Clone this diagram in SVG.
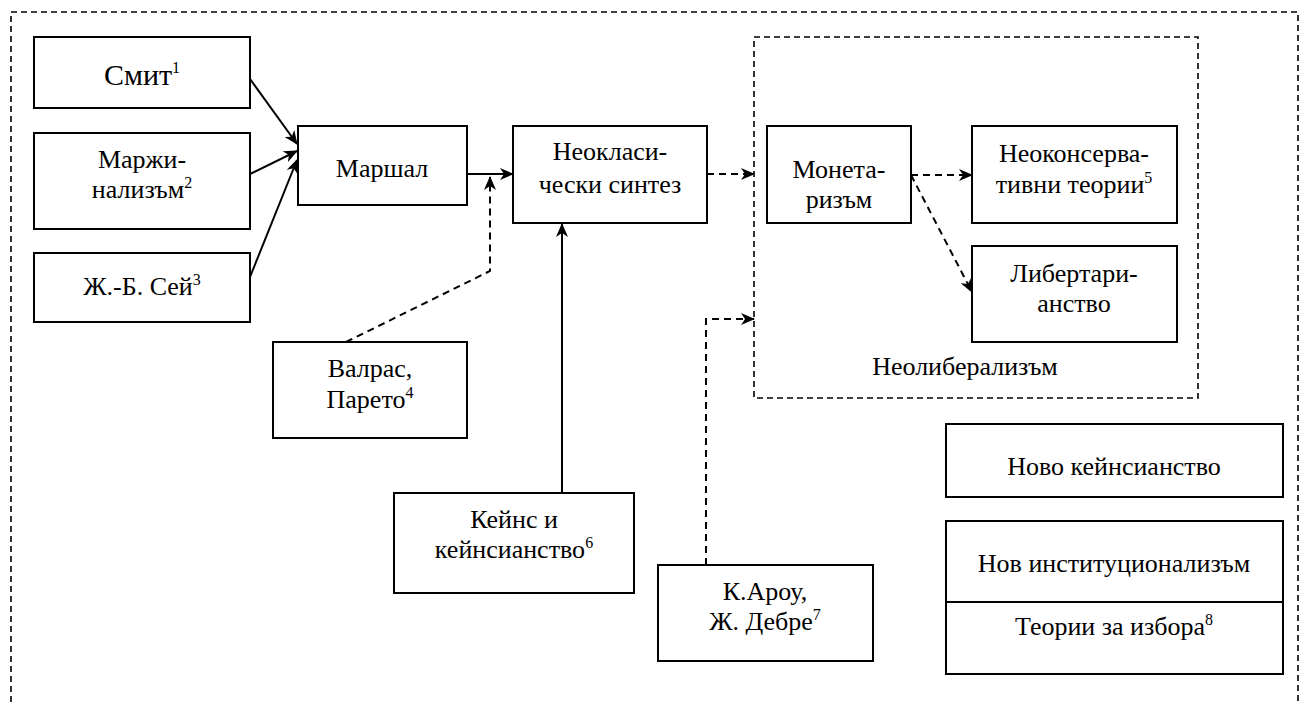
<svg xmlns="http://www.w3.org/2000/svg" width="1312" height="704" viewBox="0 0 1312 704">
<style>
  .box { fill: #fff; stroke: #000; stroke-width: 2; }
  .t { font-family: 'Liberation Serif', 'DejaVu Serif', serif; font-size: 26px; fill: #000; text-anchor: middle; }
  .big { font-size: 30px; }
  .sup { font-size: 16px; }
  .frame { fill: none; stroke: #000; stroke-width: 1.6; stroke-dasharray: 6 4; }
  .solid { fill: none; stroke: #000; stroke-width: 2; }
  .dash { fill: none; stroke: #000; stroke-width: 2; stroke-dasharray: 7 5; }
</style>
<defs>
  <marker id="arr" markerUnits="userSpaceOnUse" markerWidth="14" markerHeight="12" refX="13" refY="6" orient="auto">
    <path d="M0,0 L14,6 L0,12 L4,6 Z" fill="#000"/>
  </marker>
</defs>
<rect width="1312" height="704" fill="#fff"/>

<g id="frames">
  <path class="frame" d="M11,712 L11,12 L1298,12 L1298,712"/>
  <rect id="neoliberalism-frame" class="frame" x="754" y="37" width="444" height="361"/>
  <text class="t" x="965" y="375" font-family="Liberation Serif, serif">Неолиберализъм</text>
</g>

<g id="connectors">
  <path class="solid" d="M250,79 L297,144" marker-end="url(#arr)"/>
  <path class="solid" d="M250,174 L297,151" marker-end="url(#arr)"/>
  <path class="solid" d="M250,277 L297,160" marker-end="url(#arr)"/>
  <path class="solid" d="M467,174 L513,174" marker-end="url(#arr)"/>
  <path class="dash" d="M346,342 L490,271 L490,177" marker-end="url(#arr)"/>
  <path class="solid" d="M562,493 L562,224" marker-end="url(#arr)"/>
  <path class="dash" d="M707,174 L754,174" marker-end="url(#arr)"/>
  <path class="dash" d="M706,565 L706,319 L754,319" marker-end="url(#arr)"/>
  <path class="dash" d="M911,175 L972,175" marker-end="url(#arr)"/>
  <path class="dash" d="M911,175 L972,292" marker-end="url(#arr)"/>
</g>

<g id="smith">
  <rect class="box" x="34" y="37" width="216" height="71"/>
  <text class="t big" x="142" y="85">Смит<tspan class="sup" dy="-12">1</tspan></text>
</g>
<g id="marginalism">
  <rect class="box" x="34" y="133" width="216" height="96"/>
  <text class="t" x="142" y="168">Маржи-</text>
  <text class="t" x="142" y="198">нализъм<tspan class="sup" dy="-10">2</tspan></text>
</g>
<g id="say">
  <rect class="box" x="34" y="253" width="216" height="69"/>
  <text class="t" x="142" y="295">Ж.-Б. Сей<tspan class="sup" dy="-10">3</tspan></text>
</g>
<g id="marshall">
  <rect class="box" x="298" y="126" width="169" height="79"/>
  <text class="t" x="382" y="177">Маршал</text>
</g>
<g id="neoclassical-synthesis">
  <rect class="box" x="513" y="126" width="194" height="97"/>
  <text class="t" x="610" y="160">Неокласи-</text>
  <text class="t" x="610" y="193">чески синтез</text>
</g>
<g id="walras-pareto">
  <rect class="box" x="273" y="342" width="194" height="96"/>
  <text class="t" x="370" y="377">Валрас,</text>
  <text class="t" x="370" y="408">Парето<tspan class="sup" dy="-10">4</tspan></text>
</g>
<g id="keynes">
  <rect class="box" x="394" y="493" width="240" height="100"/>
  <text class="t" x="514" y="528">Кейнс и</text>
  <text class="t" x="514" y="558">кейнсианство<tspan class="sup" dy="-10">6</tspan></text>
</g>
<g id="arrow-debreu">
  <rect class="box" x="658" y="565" width="215" height="96"/>
  <text class="t" x="765" y="600">К.Ароу,</text>
  <text class="t" x="765" y="630">Ж. Дебре<tspan class="sup" dy="-10">7</tspan></text>
</g>
<g id="monetarism">
  <rect class="box" x="767" y="126" width="144" height="97"/>
  <text class="t" x="839" y="178">Монета-</text>
  <text class="t" x="839" y="208">ризъм</text>
</g>
<g id="neoconservative">
  <rect class="box" x="972" y="126" width="205" height="97"/>
  <text class="t" x="1074" y="162">Неоконсерва-</text>
  <text class="t" x="1074" y="193">тивни теории<tspan class="sup" dy="-10">5</tspan></text>
</g>
<g id="libertarianism">
  <rect class="box" x="972" y="246" width="205" height="96"/>
  <text class="t" x="1074" y="282">Либертари-</text>
  <text class="t" x="1074" y="312">анство</text>
</g>
<g id="new-keynesianism">
  <rect class="box" x="946" y="424" width="337" height="73"/>
  <text class="t" x="1114" y="475">Ново кейнсианство</text>
</g>
<g id="new-institutionalism">
  <rect class="box" x="946" y="521" width="337" height="153"/>
  <line x1="946" y1="602" x2="1283" y2="602" stroke="#000" stroke-width="2"/>
  <text class="t" x="1114" y="572">Нов институционализъм</text>
  <text class="t" x="1114" y="635">Теории за избора<tspan class="sup" dy="-10">8</tspan></text>
</g>
</svg>
